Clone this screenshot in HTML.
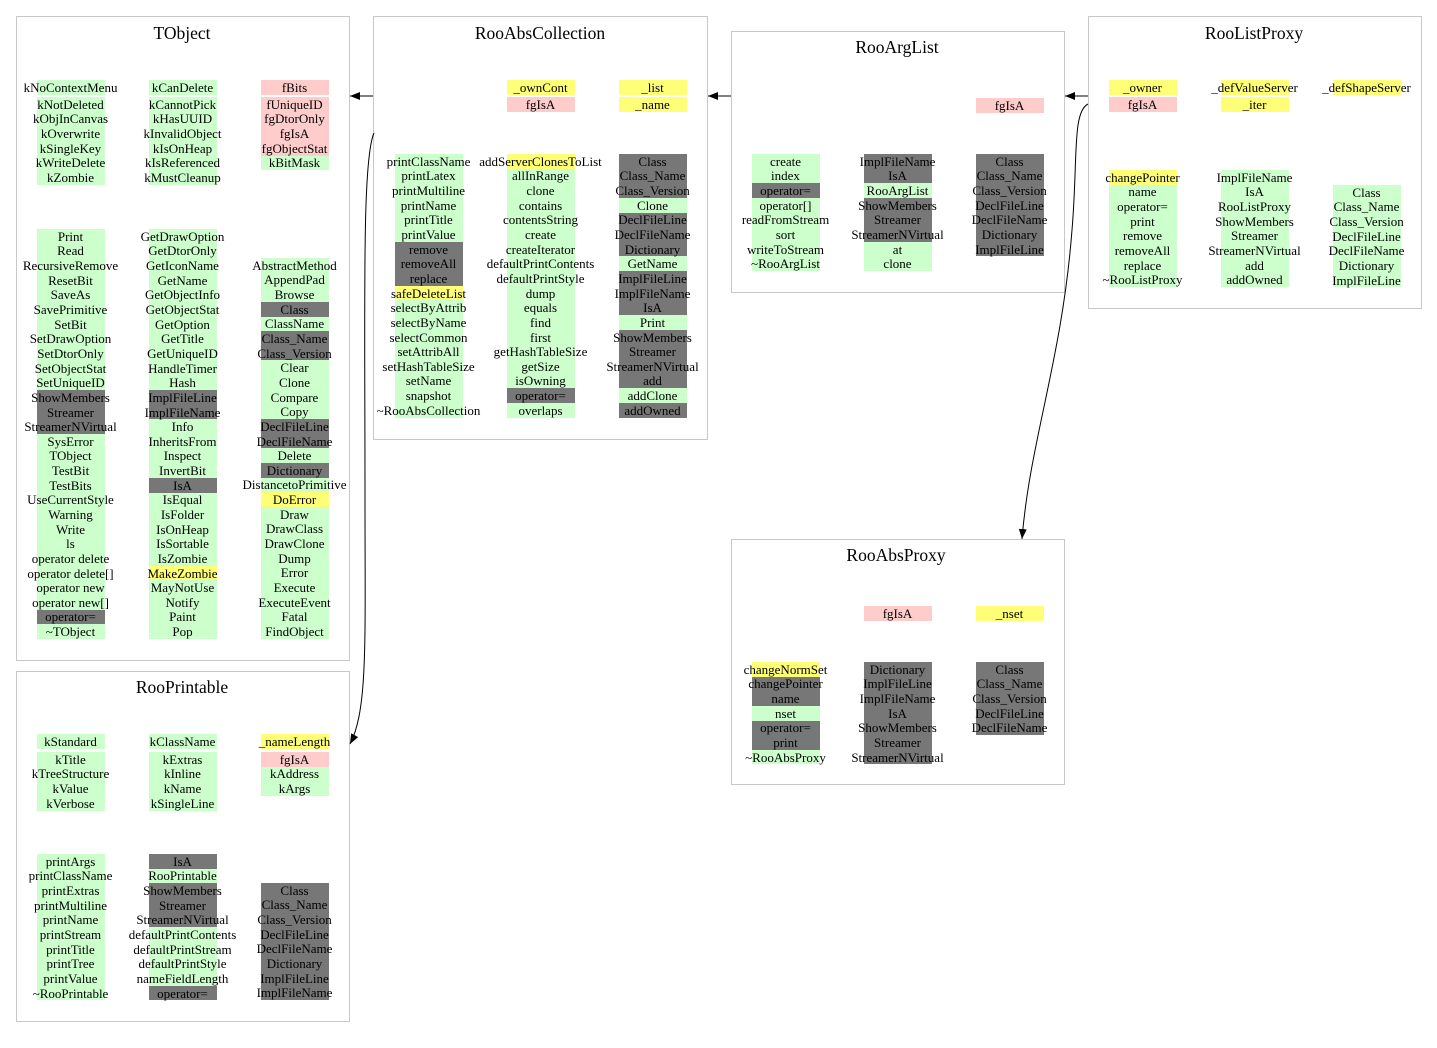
<!DOCTYPE html>
<html><head><meta charset="utf-8"><style>
body{margin:0;width:1437px;height:1048px;background:#fff;position:relative;overflow:hidden;font-family:"Liberation Serif",serif}
.box{position:absolute;border:1px solid #c8c8c8;box-sizing:border-box}
.t{position:absolute;font-size:17.5px;transform:translateX(-50%);white-space:nowrap}
.col{position:absolute;width:68px}
.col div{height:14.65px;display:flex;justify-content:center;align-items:center;font-size:13px;white-space:nowrap;line-height:1;text-indent:-1px}
.g{background:#ccffcc}.d{background:#777}.p{background:#ffcccc}.y{background:#ffff77}
svg{position:absolute;left:0;top:0}
</style></head><body>
<div class="box" style="left:16px;top:16px;width:334px;height:645px"></div>
<div class="t" style="left:182px;top:23px">TObject</div>
<div class="box" style="left:373px;top:16px;width:335px;height:424px"></div>
<div class="t" style="left:540px;top:23px">RooAbsCollection</div>
<div class="box" style="left:731px;top:31px;width:334px;height:262px"></div>
<div class="t" style="left:897px;top:37px">RooArgList</div>
<div class="box" style="left:1088px;top:16px;width:334px;height:293px"></div>
<div class="t" style="left:1254px;top:23px">RooListProxy</div>
<div class="box" style="left:731px;top:539px;width:334px;height:246px"></div>
<div class="t" style="left:896px;top:545px">RooAbsProxy</div>
<div class="box" style="left:16px;top:671px;width:334px;height:351px"></div>
<div class="t" style="left:182px;top:677px">RooPrintable</div>

<!-- TObject -->
<div class="col" style="left:37px;top:80px"><div class="g">kNoContextMenu</div></div>
<div class="col" style="left:37px;top:97px"><div class="g">kNotDeleted</div><div class="g">kObjInCanvas</div><div class="g">kOverwrite</div><div class="g">kSingleKey</div><div class="g">kWriteDelete</div><div class="g">kZombie</div></div>
<div class="col" style="left:149px;top:80px"><div class="g">kCanDelete</div></div>
<div class="col" style="left:149px;top:97px"><div class="g">kCannotPick</div><div class="g">kHasUUID</div><div class="g">kInvalidObject</div><div class="g">kIsOnHeap</div><div class="g">kIsReferenced</div><div class="g">kMustCleanup</div></div>
<div class="col" style="left:261px;top:80px"><div class="p">fBits</div></div>
<div class="col" style="left:261px;top:97px"><div class="p">fUniqueID</div><div class="p">fgDtorOnly</div><div class="p">fgIsA</div><div class="p">fgObjectStat</div><div class="g">kBitMask</div></div>
<div class="col" style="left:37px;top:229px"><div class="g">Print</div><div class="g">Read</div><div class="g">RecursiveRemove</div><div class="g">ResetBit</div><div class="g">SaveAs</div><div class="g">SavePrimitive</div><div class="g">SetBit</div><div class="g">SetDrawOption</div><div class="g">SetDtorOnly</div><div class="g">SetObjectStat</div><div class="g">SetUniqueID</div><div class="d">ShowMembers</div><div class="d">Streamer</div><div class="d">StreamerNVirtual</div><div class="g">SysError</div><div class="g">TObject</div><div class="g">TestBit</div><div class="g">TestBits</div><div class="g">UseCurrentStyle</div><div class="g">Warning</div><div class="g">Write</div><div class="g">ls</div><div class="g">operator delete</div><div class="g">operator delete[]</div><div class="g">operator new</div><div class="g">operator new[]</div><div class="d">operator=</div><div class="g">~TObject</div></div>
<div class="col" style="left:149px;top:229px"><div class="g">GetDrawOption</div><div class="g">GetDtorOnly</div><div class="g">GetIconName</div><div class="g">GetName</div><div class="g">GetObjectInfo</div><div class="g">GetObjectStat</div><div class="g">GetOption</div><div class="g">GetTitle</div><div class="g">GetUniqueID</div><div class="g">HandleTimer</div><div class="g">Hash</div><div class="d">ImplFileLine</div><div class="d">ImplFileName</div><div class="g">Info</div><div class="g">InheritsFrom</div><div class="g">Inspect</div><div class="g">InvertBit</div><div class="d">IsA</div><div class="g">IsEqual</div><div class="g">IsFolder</div><div class="g">IsOnHeap</div><div class="g">IsSortable</div><div class="g">IsZombie</div><div class="y">MakeZombie</div><div class="g">MayNotUse</div><div class="g">Notify</div><div class="g">Paint</div><div class="g">Pop</div></div>
<div class="col" style="left:261px;top:258px"><div class="g">AbstractMethod</div><div class="g">AppendPad</div><div class="g">Browse</div><div class="d">Class</div><div class="g">ClassName</div><div class="d">Class_Name</div><div class="d">Class_Version</div><div class="g">Clear</div><div class="g">Clone</div><div class="g">Compare</div><div class="g">Copy</div><div class="d">DeclFileLine</div><div class="d">DeclFileName</div><div class="g">Delete</div><div class="d">Dictionary</div><div class="g">DistancetoPrimitive</div><div class="y">DoError</div><div class="g">Draw</div><div class="g">DrawClass</div><div class="g">DrawClone</div><div class="g">Dump</div><div class="g">Error</div><div class="g">Execute</div><div class="g">ExecuteEvent</div><div class="g">Fatal</div><div class="g">FindObject</div></div>

<!-- RooAbsCollection -->
<div class="col" style="left:507px;top:80px"><div class="y">_ownCont</div></div>
<div class="col" style="left:507px;top:97px"><div class="p">fgIsA</div></div>
<div class="col" style="left:619px;top:80px"><div class="y">_list</div></div>
<div class="col" style="left:619px;top:97px"><div class="y">_name</div></div>
<div class="col" style="left:395px;top:154px"><div class="g">printClassName</div><div class="g">printLatex</div><div class="g">printMultiline</div><div class="g">printName</div><div class="g">printTitle</div><div class="g">printValue</div><div class="d">remove</div><div class="d">removeAll</div><div class="d">replace</div><div class="y">safeDeleteList</div><div class="g">selectByAttrib</div><div class="g">selectByName</div><div class="g">selectCommon</div><div class="g">setAttribAll</div><div class="g">setHashTableSize</div><div class="g">setName</div><div class="g">snapshot</div><div class="g">~RooAbsCollection</div></div>
<div class="col" style="left:507px;top:154px"><div class="y">addServerClonesToList</div><div class="g">allInRange</div><div class="g">clone</div><div class="g">contains</div><div class="g">contentsString</div><div class="g">create</div><div class="g">createIterator</div><div class="g">defaultPrintContents</div><div class="g">defaultPrintStyle</div><div class="g">dump</div><div class="g">equals</div><div class="g">find</div><div class="g">first</div><div class="g">getHashTableSize</div><div class="g">getSize</div><div class="g">isOwning</div><div class="d">operator=</div><div class="g">overlaps</div></div>
<div class="col" style="left:619px;top:154px"><div class="d">Class</div><div class="d">Class_Name</div><div class="d">Class_Version</div><div class="g">Clone</div><div class="d">DeclFileLine</div><div class="d">DeclFileName</div><div class="d">Dictionary</div><div class="g">GetName</div><div class="d">ImplFileLine</div><div class="d">ImplFileName</div><div class="d">IsA</div><div class="g">Print</div><div class="d">ShowMembers</div><div class="d">Streamer</div><div class="d">StreamerNVirtual</div><div class="d">add</div><div class="g">addClone</div><div class="d">addOwned</div></div>

<!-- RooArgList -->
<div class="col" style="left:976px;top:98px"><div class="p">fgIsA</div></div>
<div class="col" style="left:752px;top:154px"><div class="g">create</div><div class="g">index</div><div class="d">operator=</div><div class="g">operator[]</div><div class="g">readFromStream</div><div class="g">sort</div><div class="g">writeToStream</div><div class="g">~RooArgList</div></div>
<div class="col" style="left:864px;top:154px"><div class="d">ImplFileName</div><div class="d">IsA</div><div class="g">RooArgList</div><div class="d">ShowMembers</div><div class="d">Streamer</div><div class="d">StreamerNVirtual</div><div class="g">at</div><div class="g">clone</div></div>
<div class="col" style="left:976px;top:154px"><div class="d">Class</div><div class="d">Class_Name</div><div class="d">Class_Version</div><div class="d">DeclFileLine</div><div class="d">DeclFileName</div><div class="d">Dictionary</div><div class="d">ImplFileLine</div></div>

<!-- RooListProxy -->
<div class="col" style="left:1109px;top:80px"><div class="y">_owner</div></div>
<div class="col" style="left:1109px;top:97px"><div class="p">fgIsA</div></div>
<div class="col" style="left:1221px;top:80px"><div class="y">_defValueServer</div></div>
<div class="col" style="left:1221px;top:97px"><div class="y">_iter</div></div>
<div class="col" style="left:1333px;top:80px"><div class="y">_defShapeServer</div></div>
<div class="col" style="left:1109px;top:170px"><div class="y">changePointer</div><div class="g">name</div><div class="g">operator=</div><div class="g">print</div><div class="g">remove</div><div class="g">removeAll</div><div class="g">replace</div><div class="g">~RooListProxy</div></div>
<div class="col" style="left:1221px;top:170px"><div class="g">ImplFileName</div><div class="g">IsA</div><div class="g">RooListProxy</div><div class="g">ShowMembers</div><div class="g">Streamer</div><div class="g">StreamerNVirtual</div><div class="g">add</div><div class="g">addOwned</div></div>
<div class="col" style="left:1333px;top:185px"><div class="g">Class</div><div class="g">Class_Name</div><div class="g">Class_Version</div><div class="g">DeclFileLine</div><div class="g">DeclFileName</div><div class="g">Dictionary</div><div class="g">ImplFileLine</div></div>

<!-- RooAbsProxy -->
<div class="col" style="left:864px;top:606px"><div class="p">fgIsA</div></div>
<div class="col" style="left:976px;top:606px"><div class="y">_nset</div></div>
<div class="col" style="left:752px;top:662px"><div class="y">changeNormSet</div><div class="d">changePointer</div><div class="d">name</div><div class="g">nset</div><div class="d">operator=</div><div class="d">print</div><div class="g">~RooAbsProxy</div></div>
<div class="col" style="left:864px;top:662px"><div class="d">Dictionary</div><div class="d">ImplFileLine</div><div class="d">ImplFileName</div><div class="d">IsA</div><div class="d">ShowMembers</div><div class="d">Streamer</div><div class="d">StreamerNVirtual</div></div>
<div class="col" style="left:976px;top:662px"><div class="d">Class</div><div class="d">Class_Name</div><div class="d">Class_Version</div><div class="d">DeclFileLine</div><div class="d">DeclFileName</div></div>

<!-- RooPrintable -->
<div class="col" style="left:37px;top:734px"><div class="g">kStandard</div></div>
<div class="col" style="left:37px;top:752px"><div class="g">kTitle</div><div class="g">kTreeStructure</div><div class="g">kValue</div><div class="g">kVerbose</div></div>
<div class="col" style="left:149px;top:734px"><div class="g">kClassName</div></div>
<div class="col" style="left:149px;top:752px"><div class="g">kExtras</div><div class="g">kInline</div><div class="g">kName</div><div class="g">kSingleLine</div></div>
<div class="col" style="left:261px;top:734px"><div class="y">_nameLength</div></div>
<div class="col" style="left:261px;top:752px"><div class="p">fgIsA</div><div class="g">kAddress</div><div class="g">kArgs</div></div>
<div class="col" style="left:37px;top:854px"><div class="g">printArgs</div><div class="g">printClassName</div><div class="g">printExtras</div><div class="g">printMultiline</div><div class="g">printName</div><div class="g">printStream</div><div class="g">printTitle</div><div class="g">printTree</div><div class="g">printValue</div><div class="g">~RooPrintable</div></div>
<div class="col" style="left:149px;top:854px"><div class="d">IsA</div><div class="g">RooPrintable</div><div class="d">ShowMembers</div><div class="d">Streamer</div><div class="d">StreamerNVirtual</div><div class="g">defaultPrintContents</div><div class="g">defaultPrintStream</div><div class="g">defaultPrintStyle</div><div class="g">nameFieldLength</div><div class="d">operator=</div></div>
<div class="col" style="left:261px;top:883px"><div class="d">Class</div><div class="d">Class_Name</div><div class="d">Class_Version</div><div class="d">DeclFileLine</div><div class="d">DeclFileName</div><div class="d">Dictionary</div><div class="d">ImplFileLine</div><div class="d">ImplFileName</div></div>

<svg width="1437" height="1048" viewBox="0 0 1437 1048">
<defs><marker id="a" markerWidth="10" markerHeight="8" refX="10" refY="4" orient="auto" markerUnits="userSpaceOnUse"><path d="M0,0 L10,4 L0,8 Z" fill="#000"/></marker></defs>
<g stroke="#000" stroke-width="1" fill="none">
<path d="M373,96 L350,96" marker-end="url(#a)"/>
<path d="M731,96 L708,96" marker-end="url(#a)"/>
<path d="M1088,96 L1065,96" marker-end="url(#a)"/>
<path d="M1088,104 C1072,112 1078,160 1072,230 C1062,360 1030,440 1022,539" marker-end="url(#a)"/>
<path d="M374,133 C362,160 365,300 365,500 C365,640 368,710 350,744" marker-end="url(#a)"/>
</g></svg>
</body></html>
